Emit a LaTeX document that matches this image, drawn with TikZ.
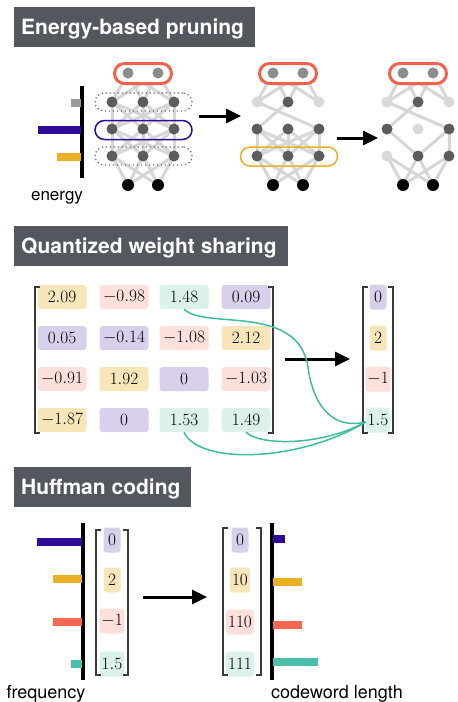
\documentclass[tikz,border=0pt]{standalone}
\usepackage{fontspec}
\setsansfont{TeX Gyre Heros}
\usetikzlibrary{arrows.meta,backgrounds}
\definecolor{titlebg}{HTML}{53575E}
\definecolor{purpC}{HTML}{2D0B96}
\definecolor{yelC}{HTML}{EBB125}
\definecolor{coralC}{HTML}{F4614E}
\definecolor{redbar}{HTML}{F8674F}
\definecolor{tealC}{HTML}{4ABFA9}
\definecolor{tealline}{HTML}{3DBC9F}
\definecolor{grayBar}{HTML}{9A9A9A}
\definecolor{lavF}{HTML}{D8CFEA}
\definecolor{yelF}{HTML}{F7E6BA}
\definecolor{pinkF}{HTML}{FDE0DB}
\definecolor{mintF}{HTML}{DAF1EC}
\definecolor{ndDark}{HTML}{5C5C5C}
\definecolor{ndTop}{HTML}{8C8C8C}
\definecolor{ndLight}{HTML}{D9D9D9}
\definecolor{edgeC}{HTML}{D6D6D6}
\definecolor{brC}{HTML}{3A3A3A}
\definecolor{dotC}{HTML}{707070}
\begin{document}
\begin{tikzpicture}[x=1pt,y=-1pt,
 titlebox/.style={fill=titlebg, anchor=north west, inner sep=0pt, minimum height=40pt},
 titletext/.style={text=white, font=\fontsize{21}{25}\selectfont\sffamily\bfseries, anchor=base west, inner sep=0pt},
 lbl/.style={font=\fontsize{17}{20}\selectfont\sffamily, anchor=base, inner sep=0pt},
 axisline/.style={line width=3.2pt, draw=black},
 nnedge/.style={line width=3pt, draw=edgeC},
 nd/.style={circle, fill=ndDark, minimum size=11pt, inner sep=0pt},
 ndl/.style={nd, fill=ndLight},
 ndt/.style={nd, fill=ndTop},
 ndb/.style={nd, fill=black, minimum size=12pt},
 capsule/.style={rectangle, inner sep=0pt, minimum width=97pt, minimum height=19pt, rounded corners=9.5pt},
 redcap/.style={capsule, draw=coralC, line width=3pt, fill=white, minimum width=57pt, minimum height=20pt, rounded corners=10pt},
 dotcap/.style={capsule, draw=dotC, line width=1.3pt, dash pattern=on 1.3pt off 2.7pt, minimum height=18pt, rounded corners=9pt},
 bigarrow/.style={line width=3pt, -{Triangle[length=15pt,width=14pt]}},
 cell/.style={rounded corners=3pt, minimum width=49pt, minimum height=24pt, inner sep=1pt, font=\fontsize{17}{20}\selectfont},
 vcell/.style={rounded corners=3pt, minimum width=17pt, minimum height=25pt, inner xsep=2pt, inner ysep=1pt, font=\fontsize{17}{20}\selectfont},
 bracket/.style={draw=brC, line width=1.2pt},
 tcurve/.style={draw=tealline, line width=1.5pt},
]
\useasboundingbox (0,0) rectangle (458,702);

% ---------- titles
\node[titlebox, minimum width=241pt] (t1box) at (14,7) {};
\node[titletext] (t1) at (21,34.5) {Energy-based pruning};
\node[titlebox, minimum width=274pt] (t2box) at (14,226) {};
\node[titletext] (t2) at (21,253.5) {Quantized weight sharing};
\node[titlebox, minimum width=177pt] (t3box) at (14,467) {};
\node[titletext] (t3) at (21,494.5) {Huffman coding};

% ---------- energy bars
\draw[axisline] (82,86) -- (82,178);
\fill[grayBar] (71,99) rectangle (81,107);
\fill[purpC] (38,126) rectangle (81,134);
\fill[yelC] (57,153) rectangle (81,161);
\node[lbl] (elab) at (57,200) {energy};

% ---------- network 1
\node[redcap] (aCap) at (143,73.5) {};
\node[dotcap] (aD1) at (143.5,102) {};
\node[capsule, draw=purpC, line width=1.5pt] (aP) at (143.5,130) {};
\node[dotcap] (aD3) at (143.5,156) {};
\node[ndt] (aT1) at (128,73) {};
\node[ndt] (aT2) at (158,73) {};
\foreach \c/\x in {1/112,2/143,3/174}{
  \node[nd] (a1\c) at (\x,102) {};
  \node[nd] (a2\c) at (\x,129) {};
  \node[nd] (a3\c) at (\x,156) {};
}
\node[ndb] (aB1) at (128,185) {};
\node[ndb] (aB2) at (158,185) {};

% ---------- network 2
\node[redcap] (bCap) at (288,73.5) {};
\node[capsule, draw=yelC, line width=1.5pt] (bY) at (289,156.5) {};
\node[ndt] (bT1) at (273,73) {};
\node[ndt] (bT2) at (303,73) {};
\foreach \c/\x/\s in {1/257/ndl,2/288/nd,3/319/ndl}{\node[\s] (b1\c) at (\x,102) {};}
\foreach \c/\x in {1/257,2/288,3/319}{
  \node[nd] (b2\c) at (\x,129) {};
  \node[nd] (b3\c) at (\x,156) {};
}
\node[ndb] (bB1) at (273,185) {};
\node[ndb] (bB2) at (303,185) {};

% ---------- network 3
\node[redcap] (cCap) at (418,73.5) {};
\node[ndt] (cT1) at (403,73) {};
\node[ndt] (cT2) at (433,73) {};
\foreach \c/\x/\s in {1/387/ndl,2/418/nd,3/449/ndl}{\node[\s] (c1\c) at (\x,102) {};}
\foreach \c/\x/\s in {1/387/nd,2/418/ndl,3/449/nd}{\node[\s] (c2\c) at (\x,129) {};}
\foreach \c/\x/\s in {1/387/ndl,2/418/nd,3/449/nd}{\node[\s] (c3\c) at (\x,156) {};}
\node[ndb] (cB1) at (403,185) {};
\node[ndb] (cB2) at (433,185) {};

\begin{pgfonlayer}{background}
  \foreach \n in {a,b,c}{
    \foreach \i in {1,2}{\foreach \j in {1,2,3}{
      \draw[nnedge] (\n T\i.center) -- (\n 1\j.center);
      \draw[nnedge] (\n 3\j.center) -- (\n B\i.center);
    }}
  }
  \foreach \i in {1,2,3}{\foreach \j in {1,2,3}{
    \draw[nnedge] (a1\i.center) -- (a2\j.center);
    \draw[nnedge] (a2\i.center) -- (a3\j.center);
    \draw[nnedge] (b2\i.center) -- (b3\j.center);
  }}
  \draw[nnedge] (b11.center) -- (b23.center);
  \draw[nnedge] (b12.center) -- (b21.center);
  \draw[nnedge] (c11.center) -- (c23.center);
  \draw[nnedge] (c12.center) -- (c21.center);
  \draw[nnedge] (c21.center) -- (c32.center);
  \draw[nnedge] (c23.center) -- (c32.center);
  \draw[nnedge] (c23.center) -- (c33.center);
\end{pgfonlayer}

\coordinate (ar1s) at (199,116);
\coordinate (ar1e) at (241,116);
\draw[bigarrow] (ar1s) -- (ar1e);
\coordinate (ar2s) at (337,138);
\coordinate (ar2e) at (378,138);
\draw[bigarrow] (ar2s) -- (ar2e);

% ---------- quantized weight sharing
\node[cell, fill=yelF]  (m11) at (62,297)  {$2.09$};
\node[cell, fill=pinkF] (m12) at (124,297) {$-0.98$};
\node[cell, fill=mintF] (m13) at (184,297) {$1.48$};
\node[cell, fill=lavF]  (m14) at (246,297) {$0.09$};
\node[cell, fill=lavF]  (m21) at (62,338)  {$0.05$};
\node[cell, fill=lavF]  (m22) at (124,338) {$-0.14$};
\node[cell, fill=pinkF] (m23) at (184,338) {$-1.08$};
\node[cell, fill=yelF]  (m24) at (246,338) {$2.12$};
\node[cell, fill=pinkF] (m31) at (62,379)  {$-0.91$};
\node[cell, fill=yelF]  (m32) at (124,379) {$1.92$};
\node[cell, fill=lavF]  (m33) at (184,379) {$0$};
\node[cell, fill=pinkF] (m34) at (246,379) {$-1.03$};
\node[cell, fill=yelF]  (m41) at (62,420)  {$-1.87$};
\node[cell, fill=lavF]  (m42) at (124,420) {$0$};
\node[cell, fill=mintF] (m43) at (184,420) {$1.53$};
\node[cell, fill=mintF] (m44) at (246,420) {$1.49$};
\draw[bracket] (40,287) -- (35,287) -- (35,433) -- (40,433);
\draw[bracket] (268,287) -- (273,287) -- (273,433) -- (268,433);

\node[vcell, fill=lavF]  (v1) at (378,297) {$0$};
\node[vcell, fill=yelF]  (v2) at (378,338) {$2$};
\node[vcell, fill=pinkF] (v3) at (378,379) {$-1$};
\node[vcell, fill=mintF] (v4) at (378,420) {$1.5$};
\draw[bracket] (368,287) -- (363,287) -- (363,433) -- (368,433);
\draw[bracket] (388,287) -- (393,287) -- (393,433) -- (388,433);

\coordinate (ar3s) at (285,359);
\coordinate (ar3e) at (350,359);
\draw[bigarrow] (ar3s) -- (ar3e);

\draw[tcurve] (m13.south) .. controls (205,330) and (298,303) .. (308,367)
   .. controls (313,405) and (332,430) .. ([yshift=-2pt]v4.west);
\draw[tcurve] (m44.south) .. controls (260,446) and (322,446) .. ([yshift=-2pt]v4.west);
\draw[tcurve] (m43.south) .. controls (200,466) and (302,461) .. ([yshift=-2pt]v4.west);

% ---------- huffman coding
\draw[axisline] (83,523) -- (83,680);
\fill[purpC] (37,538) rectangle (82,546);
\fill[yelC] (53,575) rectangle (82,583);
\fill[redbar] (53,618) rectangle (82,626);
\fill[tealC] (71,660) rectangle (82,668);
\node[lbl, font=\fontsize{18}{21}\selectfont\sffamily] (flab) at (46,698) {frequency};

\node[vcell, fill=lavF]  (h11) at (112,540) {$0$};
\node[vcell, fill=yelF]  (h12) at (112,580) {$2$};
\node[vcell, fill=pinkF] (h13) at (112,621) {$-1$};
\node[vcell, fill=mintF] (h14) at (112,664) {$1.5$};
\draw[bracket] (101,530) -- (96,530) -- (96,675) -- (101,675);
\draw[bracket] (123,530) -- (128,530) -- (128,675) -- (123,675);

\coordinate (ar4s) at (143,597);
\coordinate (ar4e) at (207,597);
\draw[bigarrow] (ar4s) -- (ar4e);

\node[vcell, fill=lavF]  (h21) at (240,540) {$0$};
\node[vcell, fill=yelF]  (h22) at (240,580) {$10$};
\node[vcell, fill=pinkF] (h23) at (240,622) {$110$};
\node[vcell, fill=mintF] (h24) at (240,664) {$111$};
\draw[bracket] (228,528) -- (223,528) -- (223,675) -- (228,675);
\draw[bracket] (256,528) -- (261,528) -- (261,675) -- (256,675);

\draw[axisline] (272,523) -- (272,680);
\fill[purpC] (273,535) rectangle (285,543);
\fill[yelC] (273,578) rectangle (302,586);
\fill[redbar] (273,621) rectangle (302,629);
\fill[tealC] (273,658) rectangle (318,666);
\node[lbl, font=\fontsize{18}{21}\selectfont\sffamily] (clab) at (337,698) {codeword length};
\end{tikzpicture}
\end{document}
